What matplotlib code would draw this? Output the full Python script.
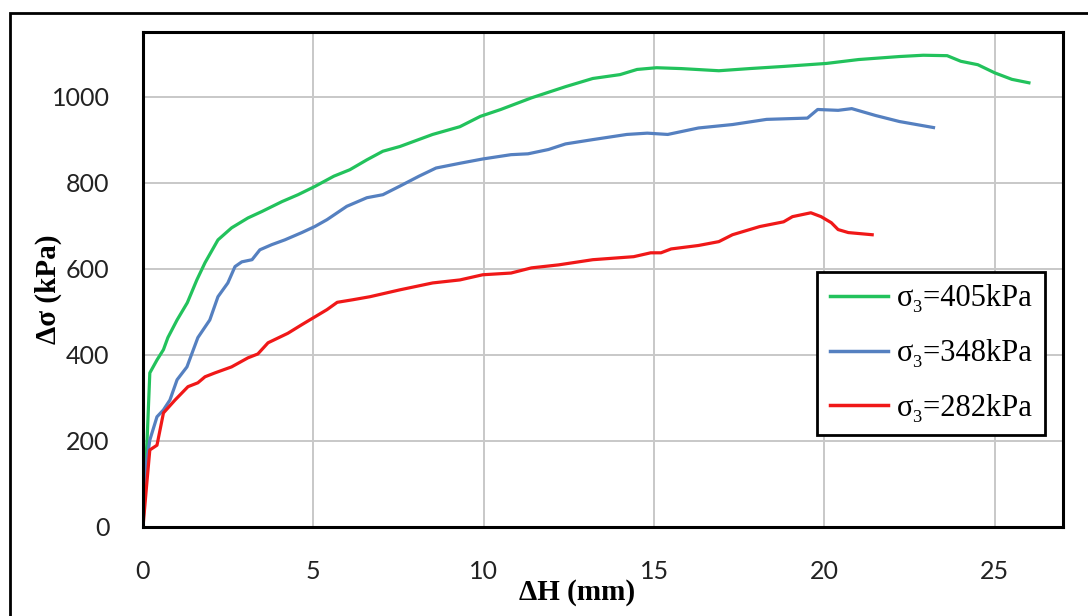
import numpy as np
import matplotlib
matplotlib.use("Agg")
import matplotlib.pyplot as plt
from matplotlib.patches import Rectangle

# sigma3 = 405 kPa
dh_405 = [0, 0.06, 0.12, 0.2, 0.41, 0.6, 0.73, 1.0, 1.3, 1.58, 1.82, 2.2, 2.6, 3.08, 3.49,
          4.08, 4.55, 5.04, 5.6, 6.07, 6.57, 7.04, 7.54, 8.5, 9.3, 9.9, 10.5, 11.4, 12.4,
          13.2, 14.0, 14.5, 15.07, 15.8, 16.9, 17.8, 18.8, 20.06, 21.0, 22.2, 22.9, 23.6,
          24.0, 24.5, 25.0, 25.5, 26.0]
ds_405 = [0, 120, 202, 358, 388, 412, 440, 481, 521, 574, 614, 667, 695, 718, 733,
          756, 772, 791, 815, 830, 853, 873, 884, 912, 930, 954, 970, 997, 1023,
          1042, 1051, 1063, 1067, 1065, 1060, 1065, 1070, 1077, 1086, 1093, 1096, 1095,
          1082, 1074, 1055, 1040, 1032]

# sigma3 = 348 kPa
dh_348 = [0, 0.06, 0.2, 0.41, 0.6, 0.79, 1.0, 1.29, 1.44, 1.61, 1.96, 2.2, 2.49, 2.7, 2.9,
          3.2, 3.43, 3.78, 4.16, 4.66, 5.04, 5.4, 5.98, 6.57, 7.04, 7.54, 8.1, 8.6, 9.3,
          9.97, 10.8, 11.3, 11.9, 12.4, 13.2, 14.2, 14.8, 15.4, 16.3, 17.3, 18.3, 19.5,
          19.8, 20.4, 20.8, 21.5, 22.2, 23.2]
ds_348 = [0, 126, 202, 256, 272, 295, 342, 372, 404, 440, 481, 535, 567, 605, 616,
          621, 644, 656, 667, 684, 698, 714, 745, 765, 772, 792, 815, 834, 845,
          855, 865, 867, 877, 890, 900, 912, 915, 912, 927, 935, 947, 950,
          970, 968, 972, 956, 942, 928]

# sigma3 = 282 kPa
dh_282 = [0, 0.12, 0.2, 0.41, 0.6, 0.94, 1.32, 1.61, 1.82, 2.11, 2.6, 3.08, 3.37, 3.67,
          4.25, 4.66, 5.04, 5.4, 5.7, 6.16, 6.66, 7.54, 8.5, 9.3, 9.97, 10.8, 11.4, 12.2,
          13.2, 14.4, 14.9, 15.2, 15.5, 16.3, 16.9, 17.3, 18.1, 18.8, 19.06, 19.6, 19.9,
          20.2, 20.4, 20.7, 21.4]
ds_282 = [0, 109, 179, 190, 265, 295, 326, 335, 349, 358, 372, 393, 402, 428,
          450, 470, 488, 505, 522, 528, 535, 551, 567, 574, 586, 590, 602, 609,
          621, 628, 637, 637, 646, 654, 663, 679, 698, 709, 721, 730, 721,
          707, 691, 684, 679]

labels = ["σ₃=405kPa", "σ₃=348kPa", "σ₃=282kPa"]
colors = ["#22c25c", "#5580c0", "#f01818"]
x_ticks = [0, 5, 10, 15, 20, 25]
y_ticks = [0, 200, 400, 600, 800, 1000]

W, H = 1088, 616
fig = plt.figure(figsize=(W / 100, H / 100), dpi=100)
ax = fig.add_axes([143 / W, (H - 527) / H, 920 / W, 495 / H])

for x, y, lab, c in zip([dh_405, dh_348, dh_282], [ds_405, ds_348, ds_282], labels, colors):
    ax.plot(x, y, color=c, linewidth=2.3, label=lab)

ax.set_xlim(0, 27)
ax.set_ylim(0, 1150)
ax.set_xticks(x_ticks)
ax.set_yticks(y_ticks)
ax.grid(True, color="#c8c8c8", linewidth=1.4)
ax.set_axisbelow(True)
for s in ax.spines.values():
    s.set_linewidth(2.2)
    s.set_color("black")

ax.tick_params(axis="both", length=0, labelsize=18, colors="#222222")
ax.tick_params(axis="x", pad=24)
ax.tick_params(axis="y", pad=24)
for t in ax.get_xticklabels() + ax.get_yticklabels():
    t.set_fontfamily("Lato")

serif = ["Liberation Serif", "DejaVu Serif"]
ax.set_xlabel("ΔH (mm)", fontsize=21, fontweight="bold", family=serif)
ax.set_ylabel("Δσ (kPa)", fontsize=21, fontweight="bold", family=serif)
ax.xaxis.set_label_coords((577 - 143) / 920, (527 - 593) / 495)
ax.yaxis.set_label_coords((48 - 143) / 920, (527 - 289) / 495)
ax.xaxis.label.set_va("center")
ax.yaxis.label.set_va("center")

leg = ax.legend(loc="upper right", bbox_to_anchor=((1045 - 143) / 920, (527 - 272) / 495),
                borderaxespad=0, fancybox=False, framealpha=1, edgecolor="black",
                prop={"family": serif, "size": 22},
                handlelength=1.9, handletextpad=0.3, labelspacing=0.85, borderpad=0.4)
leg.get_frame().set_linewidth(2.0)
for line in leg.get_lines():
    line.set_linewidth(2.5)

# outer chart frame
fig.patches.append(Rectangle((10 / W, -0.1), 1.2, (H - 13) / H + 0.1, transform=fig.transFigure,
                             fill=False, edgecolor="black", linewidth=2.0))

fig.savefig("out.png", dpi=100)
